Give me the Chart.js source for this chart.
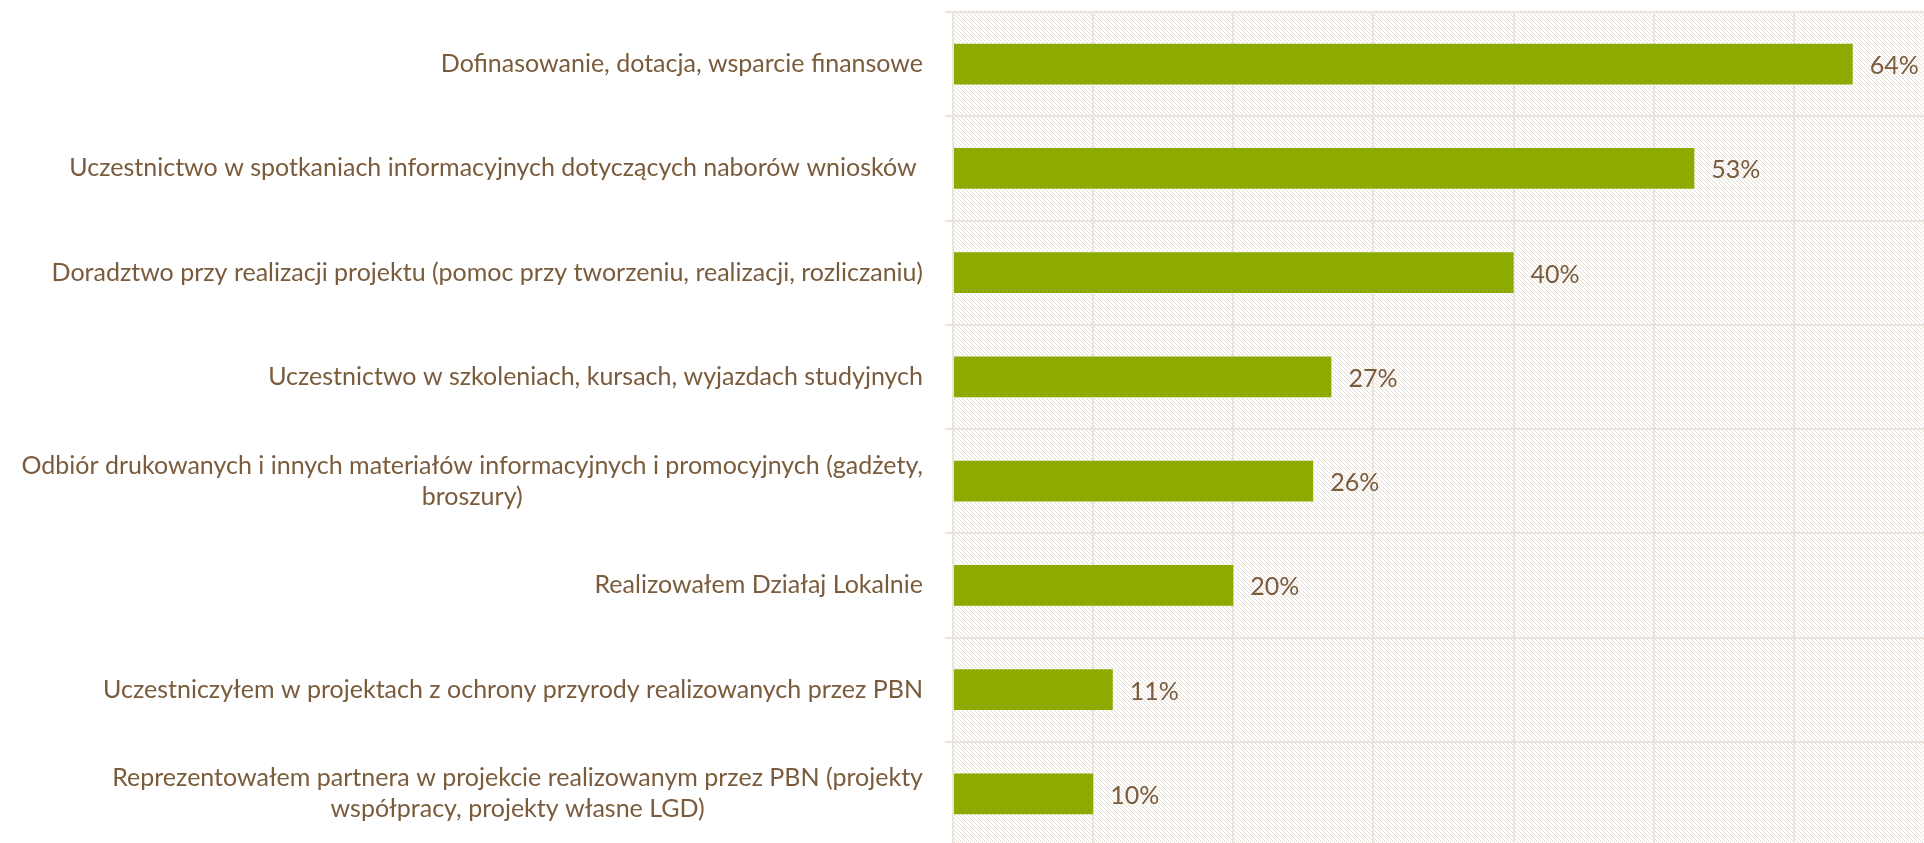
<!DOCTYPE html>
<html>
<head>
<meta charset="utf-8">
<script src="https://cdn.jsdelivr.net/npm/chart.js@4"></script>
<style>
  html, body { margin: 0; padding: 0; background: #fff; overflow: hidden; }
  #wrap { position: relative; width: 1934px; height: 846px; }
</style>
</head>
<body>
<div id="wrap"><canvas id="supportChart"></canvas></div>
<script>
// Categories (multi-line ones as arrays)
const categories = [
  "Dofinasowanie, dotacja, wsparcie finansowe",
  "Uczestnictwo w spotkaniach informacyjnych dotyczących naborów wniosków ",
  "Doradztwo przy realizacji projektu (pomoc przy tworzeniu, realizacji, rozliczaniu)",
  "Uczestnictwo w szkoleniach, kursach, wyjazdach studyjnych",
  ["Odbiór drukowanych i innych materiałów informacyjnych i promocyjnych (gadżety,", "broszury)"],
  "Realizowałem Działaj Lokalnie",
  "Uczestniczyłem w projektach z ochrony przyrody realizowanych przez PBN",
  ["Reprezentowałem partnera w projekcie realizowanym przez PBN (projekty", "współpracy, projekty własne LGD)"]
];
// bar lengths (labels show them rounded)
const shares = [64.2, 52.9, 40, 27, 25.7, 20, 11.4, 10];
const xTicks = [0, 10, 20, 30, 40, 50, 60, 70];

const textColor = '#7a5b3b';
const gridColor = '#ebe4dc';
const fontFamily = 'Lato, "Open Sans", sans-serif';

// diagonal hatch tile for the plot background
const hatchTile = document.createElement('canvas');
hatchTile.width = 4; hatchTile.height = 4;
(function () {
  const g = hatchTile.getContext('2d');
  g.fillStyle = '#e6ddd2';
  for (let i = 0; i < 4; i++) g.fillRect(i, i, 1, 1);
})();

const hatchBg = {
  id: 'hatchBg',
  beforeDraw(chart) {
    const { ctx, chartArea: a } = chart;
    ctx.save();
    ctx.fillStyle = ctx.createPattern(hatchTile, 'repeat');
    ctx.fillRect(a.left, a.top, a.right - a.left, a.bottom - a.top);
    ctx.restore();
  }
};

// category labels: right aligned block, lines centred within the block
const catLabels = {
  id: 'catLabels',
  afterDraw(chart) {
    const { ctx } = chart;
    const y = chart.scales.y;
    ctx.save();
    ctx.font = '25px ' + fontFamily;
    ctx.fillStyle = textColor;
    ctx.textBaseline = 'middle';
    ctx.textAlign = 'center';
    const lineH = 31;
    const right = y.right - 30;
    categories.forEach((lab, i) => {
      const lines = Array.isArray(lab) ? lab : [lab];
      const w = Math.max(...lines.map(l => ctx.measureText(l).width));
      const cx = Math.max(right - w / 2, 12 + w / 2);
      const cy = y.getPixelForTick(i);
      const top = cy - (lines.length - 1) * lineH / 2;
      lines.forEach((l, k) => ctx.fillText(l, cx, top + k * lineH));
    });
    ctx.restore();
  }
};

// value labels after each bar
const valueLabels = {
  id: 'valueLabels',
  afterDatasetsDraw(chart) {
    const { ctx } = chart;
    const meta = chart.getDatasetMeta(0);
    ctx.save();
    ctx.font = '25px ' + fontFamily;
    ctx.fillStyle = textColor;
    ctx.textBaseline = 'middle';
    ctx.textAlign = 'left';
    meta.data.forEach((bar, i) => {
      ctx.fillText(Math.round(shares[i]) + '%', bar.x + 17, bar.y + 2);
    });
    ctx.restore();
  }
};

const ctx = document.getElementById('supportChart').getContext('2d');
const supportChart = new Chart(ctx, {
  type: 'bar',
  data: {
    labels: categories,
    datasets: [{
      data: shares,
      backgroundColor: '#8caa00',
      categoryPercentage: 0.39,
      barPercentage: 1
    }]
  },
  options: {
    indexAxis: 'y',
    responsive: true,
    maintainAspectRatio: false,
    animation: false,
    layout: { padding: { top: 12, left: 0, right: 0, bottom: 0 } },
    plugins: { legend: { display: false }, tooltip: { enabled: false } },
    scales: {
      x: {
        min: xTicks[0],
        max: xTicks[xTicks.length - 1],
        afterBuildTicks(scale) { scale.ticks = xTicks.map(v => ({ value: v })); },
        ticks: { display: false },
        grid: { color: gridColor, lineWidth: 2, drawTicks: false },
        border: { display: false }
      },
      y: {
        ticks: { display: false },
        grid: { color: gridColor, lineWidth: 2, offset: true, tickLength: 8 },
        border: { color: gridColor, width: 2 },
        afterFit(scale) { scale.width = 953; }
      }
    }
  },
  plugins: [hatchBg, catLabels, valueLabels]
});
</script>
</body>
</html>
